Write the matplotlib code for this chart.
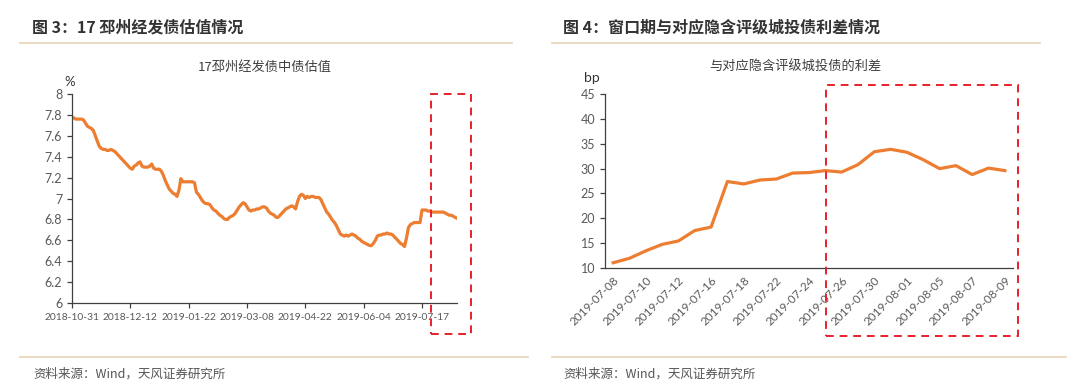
import matplotlib
matplotlib.use("Agg")
import matplotlib.pyplot as plt
from matplotlib.patches import Rectangle
from matplotlib.lines import Line2D

plt.rcParams['font.family'] = ['Lato', 'Noto Sans CJK SC', 'DejaVu Sans']

# ---------------- data ----------------
left_title = "17邳州经发债中债估值"
left_unit = "%"
left_tick_labels = ['2018-10-31', '2018-12-12', '2019-01-22', '2019-03-08',
                    '2019-04-22', '2019-06-04', '2019-07-17']
left_values = [
    7.78, 7.77, 7.76, 7.76, 7.76, 7.76, 7.75, 7.72, 7.69, 7.68,
    7.67, 7.65, 7.60, 7.55, 7.50, 7.48, 7.47, 7.47, 7.46, 7.46,
    7.47, 7.46, 7.45, 7.43, 7.41, 7.39, 7.37, 7.35, 7.33, 7.31,
    7.29, 7.28, 7.31, 7.32, 7.34, 7.35, 7.31, 7.30, 7.30, 7.30,
    7.31, 7.33, 7.29, 7.28, 7.28, 7.28, 7.26, 7.22, 7.17, 7.13,
    7.09, 7.07, 7.05, 7.04, 7.02, 7.08, 7.19, 7.16, 7.16, 7.16,
    7.16, 7.16, 7.16, 7.15, 7.06, 7.04, 7.01, 6.98, 6.96, 6.95,
    6.95, 6.94, 6.91, 6.89, 6.88, 6.86, 6.84, 6.83, 6.81, 6.80,
    6.80, 6.82, 6.83, 6.84, 6.86, 6.89, 6.92, 6.94, 6.96, 6.95,
    6.92, 6.89, 6.88, 6.89, 6.89, 6.90, 6.90, 6.91, 6.92, 6.92,
    6.91, 6.88, 6.86, 6.85, 6.84, 6.82, 6.82, 6.84, 6.86, 6.88,
    6.90, 6.91, 6.92, 6.93, 6.92, 6.90, 6.97, 7.02, 7.04, 7.03,
    7.00, 7.02, 7.01, 7.02, 7.02, 7.01, 7.01, 7.01, 6.99, 6.95,
    6.91, 6.87, 6.85, 6.82, 6.79, 6.77, 6.74, 6.70, 6.66, 6.65,
    6.64, 6.65, 6.64, 6.65, 6.66, 6.65, 6.64, 6.62, 6.61, 6.59,
    6.58, 6.57, 6.56, 6.55, 6.55, 6.57, 6.60, 6.64, 6.65, 6.65,
    6.66, 6.66, 6.67, 6.66, 6.66, 6.65, 6.63, 6.61, 6.59, 6.57,
    6.56, 6.54, 6.62, 6.72, 6.75, 6.76, 6.77, 6.77, 6.77, 6.77,
    6.89, 6.89, 6.89, 6.88, 6.88, 6.87, 6.87, 6.87, 6.87, 6.87,
    6.87, 6.87, 6.86, 6.85, 6.84, 6.84, 6.83, 6.82, 6.81,
]
left_label_step = 30
left_yticks = [6, 6.2, 6.4, 6.6, 6.8, 7, 7.2, 7.4, 7.6, 7.8, 8]
left_ytick_labels = ['6', '6.2', '6.4', '6.6', '6.8', '7', '7.2', '7.4', '7.6', '7.8', '8']

right_title = "与对应隐含评级城投债的利差"
right_unit = "bp"
right_dates = ['2019-07-08', '2019-07-09', '2019-07-10', '2019-07-11', '2019-07-12',
               '2019-07-15', '2019-07-16', '2019-07-17', '2019-07-18', '2019-07-19',
               '2019-07-22', '2019-07-23', '2019-07-24', '2019-07-25', '2019-07-26',
               '2019-07-29', '2019-07-30', '2019-07-31', '2019-08-01', '2019-08-02',
               '2019-08-05', '2019-08-06', '2019-08-07', '2019-08-08', '2019-08-09']
right_values = [11.0, 11.9, 13.4, 14.7, 15.4, 17.5, 18.2, 27.4, 26.9, 27.7,
                27.9, 29.1, 29.2, 29.6, 29.3, 30.8, 33.4, 33.9, 33.3, 31.8,
                30.0, 30.6, 28.8, 30.1, 29.6]
right_yticks = [10, 15, 20, 25, 30, 35, 40, 45]

header_left = "图 3：17 邳州经发债估值情况"
header_right = "图 4：窗口期与对应隐含评级城投债利差情况"
source_text = "资料来源：Wind，天风证券研究所"

# ---------------- style ----------------
W, H = 1080, 388
LINE_C = '#ED7D31'
TICK_C = '#595959'
RED = '#E8202A'
TAN = '#E9D8BC'

fig = plt.figure(figsize=(W / 100, H / 100), dpi=100)
fig.patch.set_facecolor('white')


def fx(px):
    return px / W


def fy(py):
    return 1 - py / H


def style_axes(ax):
    for s in ['top', 'right']:
        ax.spines[s].set_visible(False)
    for s in ['left', 'bottom']:
        ax.spines[s].set_color('#404040')
        ax.spines[s].set_linewidth(0.9)
    ax.tick_params(axis='both', colors='#404040', labelcolor=TICK_C,
                   width=0.9, length=3.5, direction='out')
    ax.tick_params(axis='y', labelsize=9)


# ---------------- left chart ----------------
axL = fig.add_axes([fx(72), fy(303), fx(457 - 72), (303 - 94) / H])
style_axes(axL)
xL = list(range(len(left_values)))
axL.plot(xL, left_values, color=LINE_C, lw=2.3, solid_joinstyle='round')
axL.set_ylim(6, 8)
axL.set_xlim(0, 198)
axL.set_yticks(left_yticks)
axL.set_yticklabels(left_ytick_labels)
axL.set_xticks([i * left_label_step for i in range(len(left_tick_labels))])
axL.set_xticklabels(left_tick_labels)
axL.tick_params(axis='x', pad=4, labelsize=7.4)

# ---------------- right chart ----------------
axR = fig.add_axes([fx(605), fy(267.7), fx(1013 - 605), (267.7 - 94.3) / H])
style_axes(axR)
xR = list(range(len(right_values)))
axR.plot(xR, right_values, color=LINE_C, lw=2.3, solid_joinstyle='round')
axR.set_ylim(10, 45)
axR.set_xlim(-0.5, len(right_values) - 0.5)
axR.set_yticks(right_yticks)
axR.set_xticks(xR[::2])
axR.set_xticklabels(right_dates[::2], rotation=45, ha='right', va='top',
                    rotation_mode='anchor')
axR.tick_params(axis='x', length=0, pad=5, labelsize=8.5)

# ---------------- texts ----------------
hdr_kw = dict(fontsize=11.5, fontweight='bold', color='#333333', va='center', ha='left',
              family=['Noto Sans CJK SC', 'DejaVu Sans'])
fig.text(fx(32), fy(27), header_left, **hdr_kw)
fig.text(fx(563), fy(27), header_right, **hdr_kw)

ttl_kw = dict(fontsize=9.5, color='#404040', va='center', ha='center',
              family=['Noto Sans CJK SC', 'DejaVu Sans'])
fig.text(fx(265), fy(67), left_title, **ttl_kw)
fig.text(fx(795), fy(67), right_title, **ttl_kw)

fig.text(fx(70), fy(82), left_unit, fontsize=9.5, color='#333333', ha='center', va='center')
fig.text(fx(592), fy(78), right_unit, fontsize=10, color='#333333', ha='center', va='center')

src_kw = dict(fontsize=9, color='#555555', va='center', ha='left',
              family=['Noto Sans CJK SC', 'DejaVu Sans'])
fig.text(fx(33), fy(374), source_text, **src_kw)
fig.text(fx(563), fy(374), source_text, **src_kw)

# separator lines
for (x0, x1, y) in [(20, 512, 43), (552, 1040, 43), (20, 528, 357), (552, 1066, 357)]:
    fig.add_artist(Line2D([fx(x0), fx(x1)], [fy(y), fy(y)], transform=fig.transFigure,
                          color=TAN, lw=1.3))

# red dashed boxes
for (x0, y0, x1, y1) in [(431, 94, 471, 334), (826, 85, 1018, 336)]:
    fig.add_artist(Rectangle((fx(x0), fy(y1)), fx(x1 - x0), (y1 - y0) / H,
                             transform=fig.transFigure, fill=False, edgecolor=RED,
                             lw=1.4, linestyle=(0, (4, 3))))

fig.savefig('out.png', dpi=100, facecolor='white')
